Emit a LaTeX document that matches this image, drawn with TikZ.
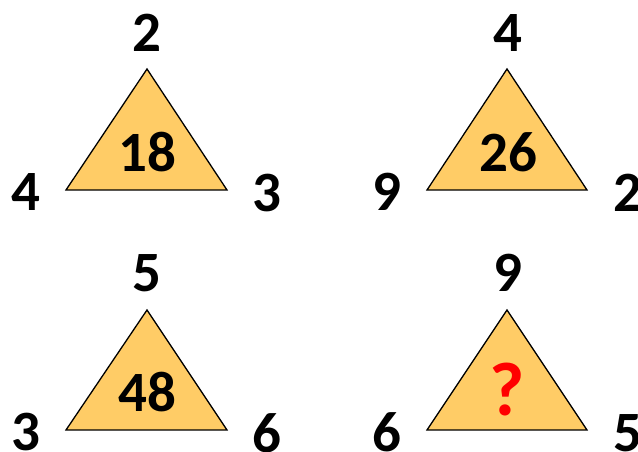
\documentclass[tikz,border=0pt]{standalone}
\usepackage{fontspec}
\setmainfont{Carlito}
\definecolor{triorange}{RGB}{255,204,102}
\begin{document}
\begin{tikzpicture}[x=1pt,y=-1pt,
  tri/.style={draw=black,line width=1.3pt,fill=triorange,line join=miter},
  num/.style={font=\fontsize{57}{60}\selectfont\bfseries,text=black,inner sep=0pt},
  quest/.style={font=\fontsize{76}{80}\selectfont\bfseries,text=red,inner sep=0pt}]
\useasboundingbox (0,0) rectangle (638,452);
% triangle 1
\coordinate (a1) at (147,69); \coordinate (b1) at (66,190); \coordinate (c1) at (227,190);
\draw[tri] (a1) -- (b1) -- (c1) -- cycle;
\node[num] (t1) at (147,33) {2};
\node[num] (l1) at (26,192) {4};
\node[num] (r1) at (267,193) {3};
\node[num] (m1) at (147,152) {18};
% triangle 2
\coordinate (a2) at (507,69); \coordinate (b2) at (427,190); \coordinate (c2) at (587,190);
\draw[tri] (a2) -- (b2) -- (c2) -- cycle;
\node[num] (t2) at (508,33) {4};
\node[num] (l2) at (387,192) {9};
\node[num] (r2) at (628,193) {2};
\node[num] (m2) at (508,152) {26};
% triangle 3
\coordinate (a3) at (147,310); \coordinate (b3) at (66,430); \coordinate (c3) at (227,430);
\draw[tri] (a3) -- (b3) -- (c3) -- cycle;
\node[num] (t3) at (147,273) {5};
\node[num] (l3) at (26,432) {3};
\node[num] (r3) at (267,433) {6};
\node[num] (m3) at (147,392) {48};
% triangle 4
\coordinate (a4) at (507,310); \coordinate (b4) at (427,430); \coordinate (c4) at (587,430);
\draw[tri] (a4) -- (b4) -- (c4) -- cycle;
\node[num] (t4) at (508,273) {9};
\node[num] (l4) at (387,432) {6};
\node[num] (r4) at (628,433) {5};
\node[quest] (m4) at (507,390) {?};
\end{tikzpicture}
\end{document}
